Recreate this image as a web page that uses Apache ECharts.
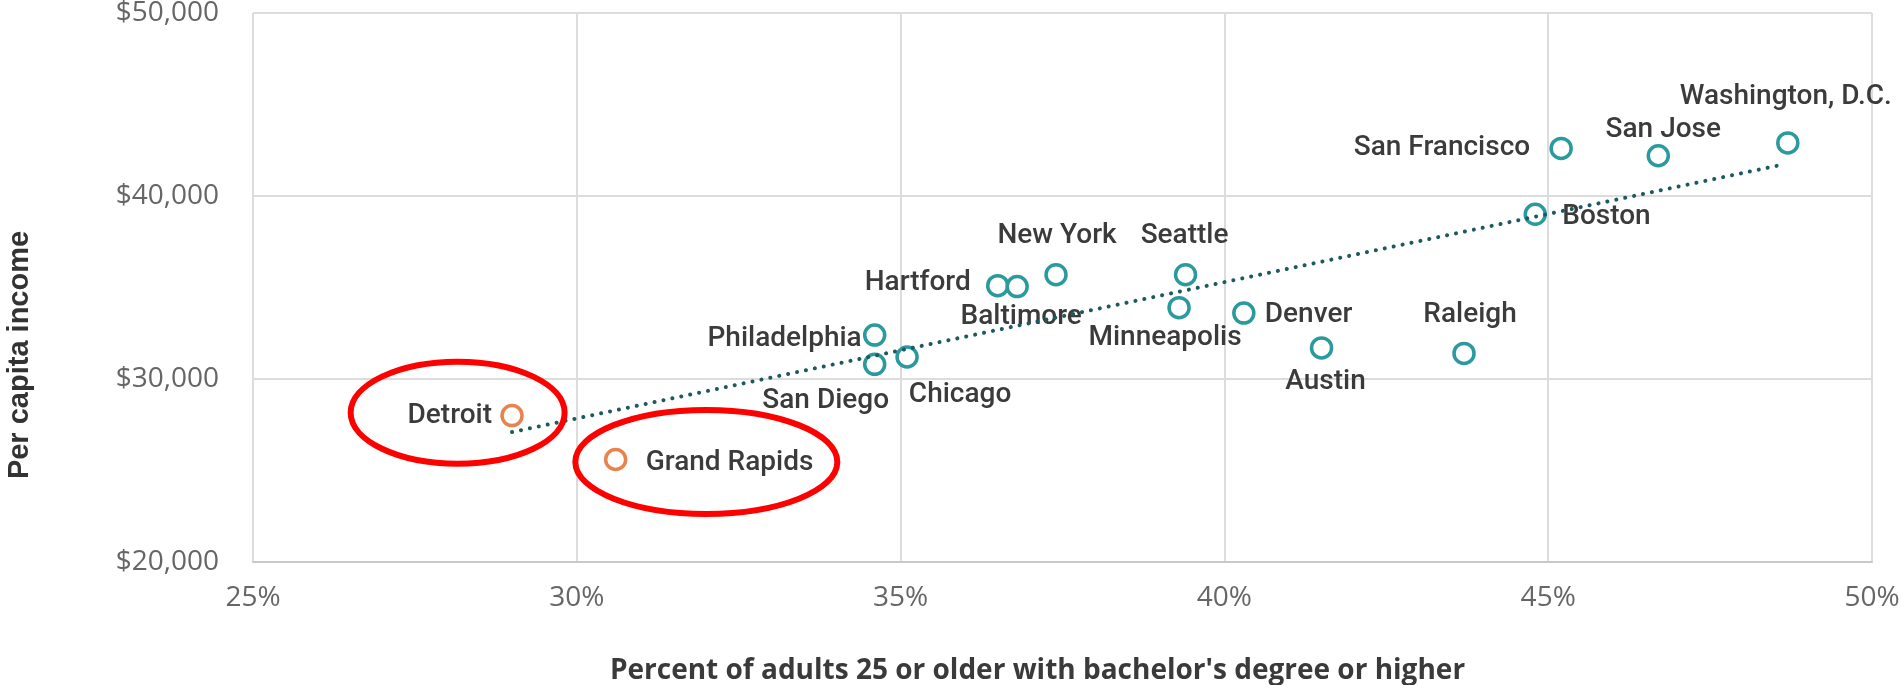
<!DOCTYPE html>
<html><head><meta charset="utf-8">
<script src="https://cdn.jsdelivr.net/npm/echarts@6/dist/echarts.min.js"></script>
<style>html,body{margin:0;padding:0;background:#fff}#c{width:1901px;height:685px}</style>
</head><body><div id="c"></div>
<script>
// ---- data ----
const cities = ['Detroit','Grand Rapids','Philadelphia','San Diego','Chicago','Hartford','Baltimore','New York','Seattle','Minneapolis','Denver','Austin','Raleigh','Boston','San Francisco','San Jose','Washington, D.C.'];
const bachelorPct = [29.0,30.6,34.6,34.6,35.1,36.5,36.8,37.4,39.4,39.3,40.3,41.5,43.7,44.8,45.2,46.7,48.7];
const perCapitaIncome = [28000,25600,32400,30800,31200,35100,35050,35700,35700,33900,33600,31700,31400,39000,42600,42200,42900];
const michiganCities = ['Detroit','Grand Rapids'];
const trendX = [29.0, 48.6];
const trendY = [27100, 41700];
const xTickValues = [25,30,35,40,45,50];
const yTickValues = [20000,30000,40000,50000];
const highlightX = [28.16, 32.0];
const highlightY = [28160, 25470];

// ---- styling / label placement ----
const TEAL = '#2a9a9e', ORANGE = '#e8834f', TREND = '#1d5a5f';
const FONT = 'Roboto, "Noto Sans", sans-serif';
const TICKFONT = '"Open Sans", Roboto, sans-serif';
const ellipseRadii = [[107, 51], [131, 52]];
const labelPlace = {
  'Detroit': ['right', -20, 0],
  'Grand Rapids': ['left', 30, 3],
  'Philadelphia': ['right', -13, 4],
  'San Diego': ['center', -49, 37],
  'Chicago': ['center', 53, 38],
  'Hartford': ['right', -27, -3],
  'Baltimore': ['center', 4, 30],
  'New York': ['center', 1, -39],
  'Seattle': ['center', -1, -39],
  'Minneapolis': ['center', -14, 30],
  'Denver': ['left', 21, 2],
  'Austin': ['center', 4, 34],
  'Raleigh': ['center', 6, -38],
  'Boston': ['left', 27, 3],
  'San Francisco': ['right', -31, 0],
  'San Jose': ['center', 5, -26],
  'Washington, D.C.': ['center', -2, -46]
};

function makeItem(i) {
  const name = cities[i];
  const pl = labelPlace[name];
  return {
    name: name,
    value: [bachelorPct[i], perCapitaIncome[i]],
    label: { align: pl[0], offset: [pl[1], pl[2]] }
  };
}
const idx = cities.map((_, i) => i);
const otherData = idx.filter(i => michiganCities.indexOf(cities[i]) < 0).map(makeItem);
const miData = idx.filter(i => michiganCities.indexOf(cities[i]) >= 0).map(makeItem);

const pointLabel = {
  show: true, position: 'inside', verticalAlign: 'middle',
  formatter: p => p.name,
  color: '#3b3b3b', fontFamily: FONT, fontSize: 28, fontWeight: 500
};

const chart = echarts.init(document.getElementById('c'), null, { renderer: 'canvas' });
chart.setOption({
  animation: false,
  backgroundColor: '#fff',
  grid: { left: 253, right: 29, top: 13, bottom: 123, containLabel: false, outerBoundsMode: 'none' },
  xAxis: {
    type: 'value', min: xTickValues[0], max: xTickValues[xTickValues.length - 1], interval: 5,
    axisLine: { show: true, lineStyle: { color: '#c9c9c9', width: 2 } },
    axisTick: { show: false },
    splitLine: { show: true, showMinLine: true, showMaxLine: true, lineStyle: { color: '#dcdcdc', width: 2 } },
    axisLabel: { formatter: v => v + '%', color: '#666', fontFamily: TICKFONT, fontSize: 28, margin: 22 },
    name: "Percent of adults 25 or older with bachelor's degree or higher",
    nameLocation: 'middle', nameGap: 95,
    nameTextStyle: { color: '#3a3a3a', fontFamily: TICKFONT, fontSize: 28, fontWeight: 'bold', padding: [0, 50, 0, 0] }
  },
  yAxis: {
    type: 'value', min: yTickValues[0], max: yTickValues[yTickValues.length - 1], interval: 10000,
    axisLine: { show: false },
    axisTick: { show: false },
    splitLine: { show: true, showMinLine: true, showMaxLine: true, lineStyle: { color: '#dcdcdc', width: 2 } },
    axisLabel: { formatter: v => '$' + v.toLocaleString('en-US'), color: '#666', fontFamily: TICKFONT, fontSize: 28, margin: 34 }
  },
  graphic: [{
    type: 'text', x: 20, y: 355, rotation: Math.PI / 2,
    style: { text: 'Per capita income', fill: '#333', font: 'bold 29px "Liberation Sans", Arial, sans-serif', align: 'center', verticalAlign: 'middle' }
  }],
  series: [
    {
      type: 'scatter', name: 'Metro areas', data: otherData, z: 2,
      symbol: 'circle', symbolSize: 20,
      itemStyle: { color: '#fff', borderColor: TEAL, borderWidth: 3.5, opacity: 1 },
      label: pointLabel, silent: true
    },
    {
      type: 'scatter', name: 'Michigan', data: miData, z: 2,
      symbol: 'circle', symbolSize: 20,
      itemStyle: { color: '#fff', borderColor: ORANGE, borderWidth: 3.5, opacity: 1 },
      label: pointLabel, silent: true
    },
    {
      type: 'line', name: 'Trend', z: 5, silent: true,
      data: trendX.map((x, i) => [x, trendY[i]]),
      symbol: 'none', showSymbol: false,
      lineStyle: { color: TREND, width: 4, type: [0.1, 9], cap: 'round' }
    },
    {
      type: 'custom', name: 'Highlight', z: 10, silent: true, clip: false,
      data: highlightX.map((x, i) => [x, highlightY[i], i]),
      renderItem: (params, api) => {
        const p = api.coord([api.value(0), api.value(1)]);
        const r = ellipseRadii[api.value(2)];
        return { type: 'ellipse', shape: { cx: p[0], cy: p[1], rx: r[0], ry: r[1] },
          style: { fill: 'none', stroke: '#f00', lineWidth: 6 } };
      }
    }
  ]
});
</script></body></html>
